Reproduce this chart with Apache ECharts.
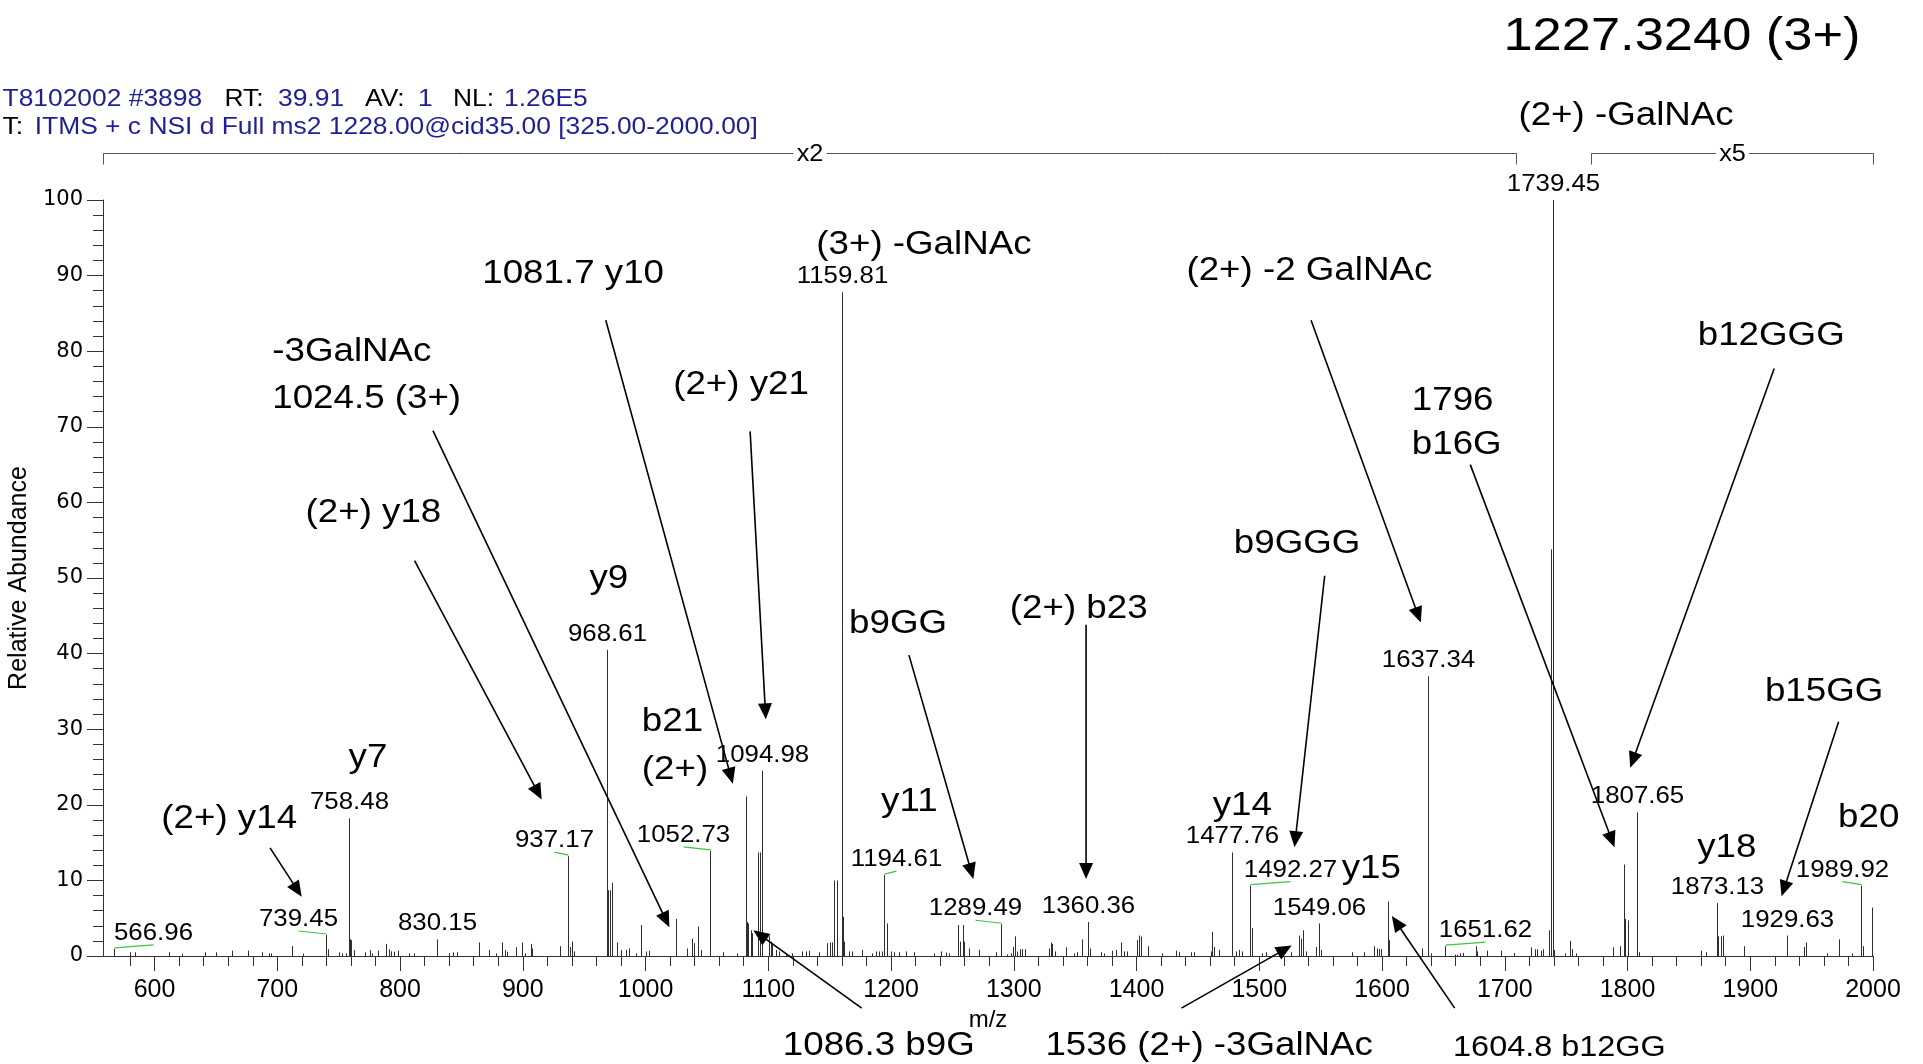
<!DOCTYPE html>
<html>
<head>
<meta charset="utf-8">
<title>MS2 spectrum 1227.3240 (3+)</title>
<script src="https://cdn.jsdelivr.net/npm/echarts@6/dist/echarts.min.js"></script>
<style>
html,body{margin:0;padding:0;background:#fff;}
#chart{width:1923px;height:1064px;}
</style>
</head>
<body>
<div id="chart"></div>
<script>
// ================= DATA =================
const peakMz = [
 566.96,580.0,584.1,611.8,622.6,641.1,649.8,662.9,676.2,687.8,693.2,695.2,711.7,721.0,739.45,741.2,750.2,753.0,755.7,758.48,759.3,760.3,762.8,771.5,775.2,777.4,782.2,788.9,791.0,792.9,795.2,798.6,807.2,811.2,830.15,839.9,843.2,846.7,864.4,872.5,878.0,883.4,885.2,887.2,894.2,899.7,902.2,906.5,907.8,
 930.0,937.17,938.3,939.8,941.7,968.61,969.7,970.8,973.0,977.0,979.7,983.8,986.5,992.0,996.0,1000.1,1002.8,1024.5,1034.0,1038.1,1039.5,1042.7,1044.9,1052.73,1063.4,1074.8,1081.7,1082.6,1083.8,1085.6,1087.0,1091.9,1093.0,1094.98,1100.6,1102.0,1103.3,1106.0,1108.8,1114.2,1119.6,1127.8,1130.5,1133.2,1141.3,1148.1,1150.0,1152.2,1153.9,1155.8,1159.81,1160.5,1161.7,1165.8,1168.5,1176.6,1184.8,1187.5,1190.2,1192.9,1194.61,1196.9,1199.7,1202.5,1206.5,1212.0,1218.7,1235.0,1240.5,1244.6,1247.3,1254.6,1256.0,1258.7,1259.5,1263.6,1271.7,
 1285.3,1289.49,1294.8,1297.5,1299.7,1301.0,1302.9,1304.8,1307.0,1309.2,1328.7,1330.1,1331.4,1333.6,1342.3,1349.1,1351.8,1355.9,1360.36,1361.9,1370.8,1373.5,1380.3,1383.0,1387.7,1389.8,1392.5,1400.7,1402.0,1403.4,1409.7,1420.5,1432.0,1434.6,1444.1,1446.9,1460.4,1461.8,1463.2,1467.2,1477.76,1480.8,1483.5,1486.2,1492.27,1493.8,1502.5,1505.3,1516.1,1525.6,1532.4,1534.1,1535.7,1537.8,1546.0,1549.06,1550.1,1575.9,1585.4,1593.5,1595.7,1597.6,1599.5,1604.7,1605.7,1632.9,1637.34,
 1639.7,1651.62,1659.5,1661.4,1663.3,1666.3,1676.4,1677.7,1685.9,1696.7,1707.6,1721.2,1724.7,1726.6,1729.3,1731.2,1736.1,1738.0,1739.45,1740.2,1748.9,1752.9,1754.6,1758.4,1788.5,1794.0,1796.9,1798.3,1800.8,1807.65,1809.4,1859.7,1863.8,1873.13,1874.0,1876.0,1877.9,1894.5,1929.63,1943.9,1945.3,1962.9,1972.7,1982.5,1989.92,1990.6,1992.0,1998.8
];
const peakAbundance = [
 0.95,0.49,0.49,0.49,0.31,0.49,0.49,0.71,0.71,0.49,0.35,0.35,1.32,0.31,2.78,0.9,0.49,0.35,0.35,18.2,2.2,2.1,0.8,0.49,0.8,0.35,0.71,1.6,0.88,0.62,0.57,0.71,0.35,0.35,2.2,0.35,0.49,0.49,1.8,0.8,0.35,1.8,0.8,0.57,1.15,1.8,0.35,1.6,1.0,
 1.3,13.2,1.2,1.9,0.6,40.5,8.7,8.7,9.7,1.8,0.8,0.8,1.0,0.35,4.1,0.6,0.7,4.9,1.0,2.3,1.7,3.9,0.8,13.9,0.5,0.35,21.1,4.5,4.3,3.4,3.0,13.7,13.7,24.5,2.6,1.9,1.5,0.8,0.6,0.35,0.35,0.6,0.6,0.7,0.5,1.7,1.8,1.8,10.0,10.0,87.8,5.2,1.9,0.6,0.6,0.8,0.35,0.6,0.6,0.6,10.7,4.3,0.6,0.5,0.5,0.6,0.5,0.35,0.6,0.45,0.35,4.1,1.9,4.1,1.9,1.0,0.8,
 0.5,4.2,0.2,0.35,1.2,2.6,0.6,0.9,0.9,0.9,1.0,1.8,1.6,0.6,1.15,0.35,0.5,2.2,4.5,1.0,0.5,0.35,0.7,0.8,1.8,0.6,0.6,2.1,2.7,2.6,1.3,0.35,0.7,0.5,0.5,0.5,0.6,3.2,1.2,0.8,13.7,0.6,0.8,0.6,9.3,3.7,0.35,0.5,0.5,0.5,2.7,2.3,3.4,0.6,1.2,4.3,0.8,0.5,0.5,1.3,1.0,0.9,0.9,7.2,2.1,1.0,37.0,
 0.35,1.3,0.2,0.2,0.35,0.4,1.3,0.6,0.7,0.7,0.4,1.15,0.9,0.9,0.7,0.9,3.4,53.8,100,0.8,0.35,2.0,0.9,0.35,1.15,1.3,12.1,4.9,4.7,19.0,0.5,0.7,0.5,7.0,2.6,2.6,2.7,1.3,2.7,1.2,1.8,0.35,2.2,0.35,9.3,3.2,1.3,6.4
];
const labeledPeakMz = [566.96,739.45,758.48,830.15,937.17,968.61,1052.73,1094.98,1159.81,1194.61,1289.49,1360.36,1477.76,1492.27,1549.06,1637.34,1651.62,1739.45,1807.65,1873.13,1929.63,1989.92];
const labeledPeakAbundance = [0.95,2.78,18.2,2.2,13.2,40.5,13.9,24.5,87.8,10.7,4.2,4.5,13.7,9.3,4.3,37.0,1.3,100,19.0,7.0,2.7,9.3];
const xTickValues = [600,700,800,900,1000,1100,1200,1300,1400,1500,1600,1700,1800,1900,2000];
const yTickValues = [0,10,20,30,40,50,60,70,80,90,100];
const xAxisTitle = 'm/z';
const yAxisTitle = 'Relative Abundance';
const precursorTitle = '1227.3240 (3+)';
const headerTexts = ['T8102002 #3898','RT:','39.91','AV:','1','NL:','1.26E5','T:','ITMS + c NSI d Full ms2 1228.00@cid35.00 [325.00-2000.00]'];
const magnifiedFrom = [558, 1770];
const magnifiedTo = [1709, 2000];
const magnifiedFactor = ['x2', 'x5'];
const annotationTexts = ['(2+) y14','y7','(2+) y18','-3GalNAc','1024.5 (3+)','y9','1081.7 y10','b21','(2+)','(2+) y21','(3+) -GalNAc','b9GG','y11','(2+) b23','(2+) -2 GalNAc','1796','b16G','b9GGG','y14','y15','b12GGG','b15GG','b20','y18','(2+) -GalNAc','1086.3 b9G','1536 (2+) -3GalNAc','1604.8 b12GG'];

// ================= LAYOUT / STYLE =================
const FONT = '"Liberation Sans", Arial, Helvetica, sans-serif';
const GRID = {left:103, right:50, top:200, bottom:108};
// annotation anchors in data space [m/z, %, align, fontSize]
const annotationLayout = [
 [660.8,18.2,'center',34],[773.9,26.2,'center',34],[778.3,58.6,'center',34],[695.9,79.9,'left',34],[695.9,73.7,'left',34],
 [970.1,49.9,'center',34],[941.0,90.3,'center',34],[997.0,31.0,'left',34],[997.0,24.6,'left',34],[1077.8,75.6,'center',34],
 [1226.8,94.1,'center',34],[1205.7,44.0,'center',34],[1214.9,20.4,'center',34],[1352.9,45.9,'center',34],[1540.8,90.6,'center',34],
 [1624.3,73.5,'left',34],[1624.3,67.7,'left',34],[1530.8,54.5,'center',34],[1486.2,19.9,'center',34],[1591.3,11.6,'center',34],
 [1917.1,82.0,'center',34],[1960.2,35.0,'center',34],[1996.5,18.3,'center',34],[1880.9,14.3,'center',34],[1798.8,111.1,'center',34],
 [1190.0,-11.85,'center',34],[1459.2,-11.85,'center',34],[1744.5,-12.2,'center',30]
];
// arrows in data space [fromMz, fromPct, toMz, toPct]
const arrowLayout = [
 [694.1,14.3,719.9,7.85],[811.8,52.3,915.4,20.7],[826.8,69.5,1019.4,3.8],[967.6,84.1,1071.1,22.8],[1085.2,69.4,1098.0,31.3],
 [1214.6,39.8,1267.1,10.2],[1358.9,43.8,1358.9,10.2],[1553.3,50.3,1528.7,14.4],[1542.2,84.1,1631.6,44.1],[1671.9,65.0,1789.4,14.4],
 [1919.5,77.7,1802.2,24.9],[1972.0,31.0,1925.5,7.9],[1176.1,-6.9,1087.9,3.4],[1436.6,-6.9,1526.4,1.4],[1659.2,-6.9,1608.0,5.3]
];
// horizontal offsets (px) of displaced peak labels (drawn with a green connector)
const peakLabelShift = {'566.96':39,'739.45':-28,'937.17':-14,'1052.73':-27,'1194.61':12,'1289.49':-26,'1492.27':40,'1651.62':40,'1989.92':-19};
const headerLayout = [[2.5,99,'#1e1e96'],[224.5,99,'#000'],[278,99,'#1e1e96'],[365,99,'#000'],[418,99,'#1e1e96'],[453,99,'#000'],[504,99,'#1e1e96'],[2.5,127,'#000'],[34.7,127,'#1e1e96']];

const minorX = [];
for (let v = 580; v <= 2000; v += 20) minorX.push(v);

// ================= RENDERERS =================
function renderStick(params, api) {
  const mz = api.value(0), ab = api.value(1);
  const b = api.coord([mz, 0]);
  const t = api.coord([mz, ab]);
  const x = Math.round(b[0]) + 0.5;
  return {type:'line', silent:true, shape:{x1:x, y1:b[1], x2:x, y2:t[1]}, style:{stroke:'#2e2e2e', lineWidth:1}};
}
function renderPeakLabel(params, api) {
  const i = params.dataIndex;
  const p = api.coord([api.value(0), api.value(1)]);
  const px = Math.round(p[0]) + 0.5;
  const text = labeledPeakMz[i].toFixed(2);
  const shift = peakLabelShift[text] || 0;
  const cx = px + shift;
  const baseline = p[1] - 7;
  const fs = 23.5;
  const children = [{
    type:'text', x:cx, y:baseline - 0.36*fs, scaleX:1.1,
    style:{text:text, fill:'#000', font:fs+'px '+FONT, align:'center', verticalAlign:'middle', textAlign:'center', textVerticalAlign:'middle'}
  }];
  if (shift !== 0) {
    children.push({type:'line', shape:{x1:cx, y1:baseline+3, x2:px, y2:p[1]-1}, style:{stroke:'#41c041', lineWidth:1.2}});
  }
  return {type:'group', silent:true, children:children};
}
function renderAnnotation(params, api) {
  const i = params.dataIndex;
  const lay = annotationLayout[i];
  const p = api.coord([api.value(0), api.value(1)]);
  return {type:'text', silent:true, x:p[0], y:p[1], scaleX:1.08,
    style:{text:annotationTexts[i], fill:'#000', font:lay[3]+'px '+FONT, align:lay[2], verticalAlign:'middle', textAlign:lay[2], textVerticalAlign:'middle'}};
}
function renderArrow(params, api) {
  const a = api.coord([api.value(0), api.value(1)]);
  const b = api.coord([api.value(2), api.value(3)]);
  const dx = b[0]-a[0], dy = b[1]-a[1], L = Math.hypot(dx, dy);
  const ux = dx/L, uy = dy/L, hl = 16, hw = 7;
  const bx = b[0]-ux*hl, by = b[1]-uy*hl;
  return {type:'group', silent:true, children:[
    {type:'line', shape:{x1:a[0], y1:a[1], x2:bx+ux*2, y2:by+uy*2}, style:{stroke:'#000', lineWidth:1.6}},
    {type:'polygon', shape:{points:[[b[0],b[1]],[bx-uy*hw, by+ux*hw],[bx+uy*hw, by-ux*hw]]}, style:{fill:'#000'}}
  ]};
}
function renderBracket(params, api) {
  const i = params.dataIndex;
  const p1 = api.coord([api.value(0), 100]);
  const p2 = api.coord([api.value(1), 100]);
  const y = Math.round(p1[1] - 47) + 0.5;
  const x1 = Math.round(p1[0]) + 0.5, x2 = Math.round(p2[0]) + 0.5;
  return {type:'group', silent:true, children:[
    {type:'polyline', shape:{points:[[x1,y+11],[x1,y],[x2,y],[x2,y+11]]}, style:{stroke:'#555', lineWidth:1, fill:null}},
    {type:'text', x:(x1+x2)/2, y:y+1, scaleX:1.1,
     style:{text:magnifiedFactor[i], fill:'#000', font:'23px '+FONT, align:'center', verticalAlign:'middle', textAlign:'center', textVerticalAlign:'middle', backgroundColor:'#fff', padding:[0,3]}}
  ]};
}

// ================= CHART =================
const chart = echarts.init(document.getElementById('chart'), null, {renderer:'canvas'});
const axisColor = '#333';
const graphicEls = [{
  type:'text', x:1682, y:37, scaleX:1.14,
  style:{text:precursorTitle, fill:'#000', font:'46px '+FONT, align:'center', verticalAlign:'middle', textAlign:'center', textVerticalAlign:'middle'}
}];
headerTexts.forEach(function (t, i) {
  const h = headerLayout[i];
  graphicEls.push({type:'text', x:h[0], y:h[1], scaleX:1.1,
    style:{text:t, fill:h[2], font:'24px '+FONT, align:'left', verticalAlign:'middle', textAlign:'left', textVerticalAlign:'middle'}});
});

chart.setOption({
  animation:false,
  backgroundColor:'#fff',
  grid:{left:GRID.left, right:GRID.right, top:GRID.top, bottom:GRID.bottom, containLabel:false, outerBoundsMode:'none'},
  xAxis:[{
    type:'value', min:558, max:2000, position:'bottom',
    name:xAxisTitle, nameLocation:'middle', nameGap:52,
    nameTextStyle:{fontFamily:'Liberation Sans', fontSize:24, color:'#000'},
    axisLine:{show:true, onZero:false, lineStyle:{color:axisColor, width:1}},
    axisTick:{show:true, customValues:xTickValues, length:15, lineStyle:{color:axisColor, width:1}},
    axisLabel:{show:true, customValues:xTickValues, margin:22, fontFamily:'Liberation Sans', fontSize:25, color:'#000',
      formatter:function (v) { return String(v); }},
    splitLine:{show:false}
  },{
    type:'value', min:558, max:2000, position:'bottom', offset:0,
    axisLine:{show:false},
    axisTick:{show:true, customValues:minorX, length:10, lineStyle:{color:axisColor, width:1}},
    axisLabel:{show:false},
    splitLine:{show:false}
  }],
  yAxis:{
    type:'value', min:0, max:100, interval:10,
    name:yAxisTitle, nameLocation:'middle', nameGap:63, nameRotate:90,
    nameTextStyle:{fontFamily:'Liberation Sans', fontSize:25, color:'#000'},
    axisLine:{show:true, onZero:false, lineStyle:{color:axisColor, width:1}},
    axisTick:{show:true, length:16, lineStyle:{color:axisColor, width:1}},
    minorTick:{show:true, splitNumber:5, length:10, lineStyle:{color:axisColor, width:1}},
    axisLabel:{show:true, margin:20, fontFamily:'DejaVu Sans', fontSize:21, color:'#000',
      formatter:function (v) { return yTickValues.indexOf(v) >= 0 ? String(v) : ''; }},
    splitLine:{show:false}, minorSplitLine:{show:false}
  },
  series:[
    {type:'custom', name:'peaks', clip:false, z:2, renderItem:renderStick, encode:{x:0, y:1},
      data:peakMz.map(function (m, i) { return [m, peakAbundance[i]]; })},
    {type:'custom', name:'peakLabels', clip:false, z:3, renderItem:renderPeakLabel, encode:{x:0, y:1},
      data:labeledPeakMz.map(function (m, i) { return [m, labeledPeakAbundance[i]]; })},
    {type:'custom', name:'annotations', clip:false, z:4, renderItem:renderAnnotation, encode:{x:0, y:1},
      data:annotationLayout.map(function (a) { return [a[0], a[1]]; })},
    {type:'custom', name:'arrows', clip:false, z:5, renderItem:renderArrow, encode:{x:[0,2], y:[1,3]},
      data:arrowLayout.map(function (a) { return a.slice(); })},
    {type:'custom', name:'magnification', clip:false, z:4, renderItem:renderBracket, encode:{x:[0,1]},
      data:magnifiedFrom.map(function (f, i) { return [f, magnifiedTo[i]]; })}
  ],
  graphic:{elements:graphicEls}
});
</script>
</body>
</html>
